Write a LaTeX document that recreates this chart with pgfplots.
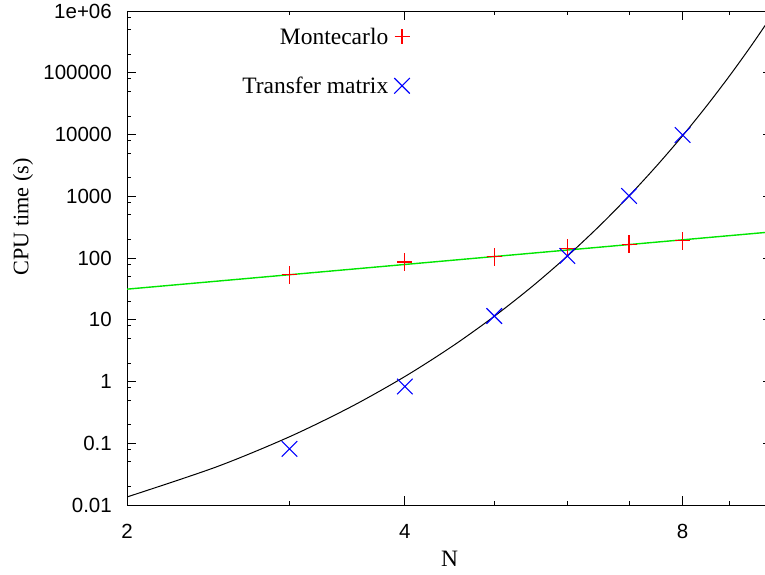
\documentclass[border=0pt]{standalone}
\usepackage{fontspec}
\setmainfont{Liberation Serif}
\newfontfamily\ticksans{Liberation Sans}
\usepackage{pgfplots}
\pgfplotsset{compat=1.18}
\usetikzlibrary{calc}
\definecolor{gpred}{RGB}{255,0,0}
\definecolor{gpblue}{RGB}{0,0,255}
\definecolor{gpgreen}{RGB}{0,230,0}
\begin{document}
\begin{tikzpicture}
\begin{axis}[
  scale only axis,
  width=645bp, height=494bp,
  xmode=log, ymode=log,
  xmin=2, xmax=10, ymin=0.01, ymax=1e6,
  xtick={2,4,8}, xticklabels={2,4,8},
  minor xtick={3,5,6,7,9},
  ytick={0.01,0.1,1,10,100,1000,10000,100000,1000000},
  yticklabels={0.01,0.1,1,10,100,1000,10000,100000,1e+06},
  minor ytick={0.02,0.05,0.08,0.2,0.5,0.8,2,5,8,20,50,80,200,500,800,2000,5000,8000,20000,50000,80000,200000,500000,800000},
  tick align=inside,
  major tick length=9bp, minor tick length=4.5bp,
  tick style={black, line width=0.7bp},
  axis line style={black, line width=0.8bp},
  ticklabel style={font=\ticksans\fontsize{20.5bp}{24bp}\selectfont},
  yticklabel style={inner sep=0pt, anchor=east, xshift=-15bp},
  xticklabel style={inner sep=0pt, anchor=north, yshift=-19bp},
  xlabel={N}, ylabel={CPU time (s)},
  label style={font=\fontsize{23.5bp}{27bp}\selectfont},
  xlabel style={at={(axis description cs:0.5,-0.108)}, anchor=center},
  ylabel style={at={(axis description cs:-0.161,0.583)}, anchor=center, font=\fontsize{22.2bp}{26bp}\selectfont},
  legend plot pos=right,
  legend cell align=right,
  legend image code/.code={\draw[#1, mark repeat=2, mark phase=2] plot coordinates {(0bp,0bp) (8bp,0bp) (16bp,0bp)};},
  legend style={draw=none, fill=none, inner sep=0pt,
    at={(axis description cs:0.4388,0.966)}, anchor=north east,
    font=\fontsize{23.5bp}{27bp}\selectfont,
    nodes={inner sep=0pt}, column sep=6bp, row sep=31bp},
]
\addplot[only marks, mark=+, color=gpred, mark size=7.5bp, mark options={line width=1.2bp},
  error bars/.cd, y dir=both, y explicit relative, error mark=none,
  error bar style={gpred, line width=1.2bp}]
  coordinates {
  (3,54)  += (0,0.40) -= (0,0.285)
  (4,86)  += (0,0.40) -= (0,0.285)
  (5,105) += (0,0.40) -= (0,0.285)
  (6,144) += (0,0.40) -= (0,0.285)
  (7,167) += (0,0.40) -= (0,0.285)
  (8,190) += (0,0.40) -= (0,0.285)
  };
\addlegendentry{Montecarlo}
\addplot[only marks, mark=x, color=gpblue, mark size=11bp, mark options={line width=1.1bp}]
  coordinates {(3,0.081) (4,0.83) (5,11.5) (6,108) (7,1010) (8,9800)};
\addlegendentry{Transfer matrix}
\addplot[forget plot, gpgreen, line width=1.4bp] coordinates {(2,31.3) (10,265)};
\addplot[forget plot, black, line width=1bp, smooth] coordinates {
  (2,0.01349) (2.5,0.04145) (3,0.1274) (3.5,0.3913) (4,1.202) (4.5,3.693)
  (5,11.35) (5.5,34.86) (6,107.2) (6.5,329.3) (7,1012) (7.5,3108)
  (8,9550) (8.5,29340) (9,90160) (9.5,277000) (10,851000)};
\end{axis}
\pgfresetboundingbox
\useasboundingbox ($(current axis.south west)+(-127bp,-70bp)$) rectangle ($(current axis.north west)+(638bp,11bp)$);
\end{tikzpicture}
\end{document}
